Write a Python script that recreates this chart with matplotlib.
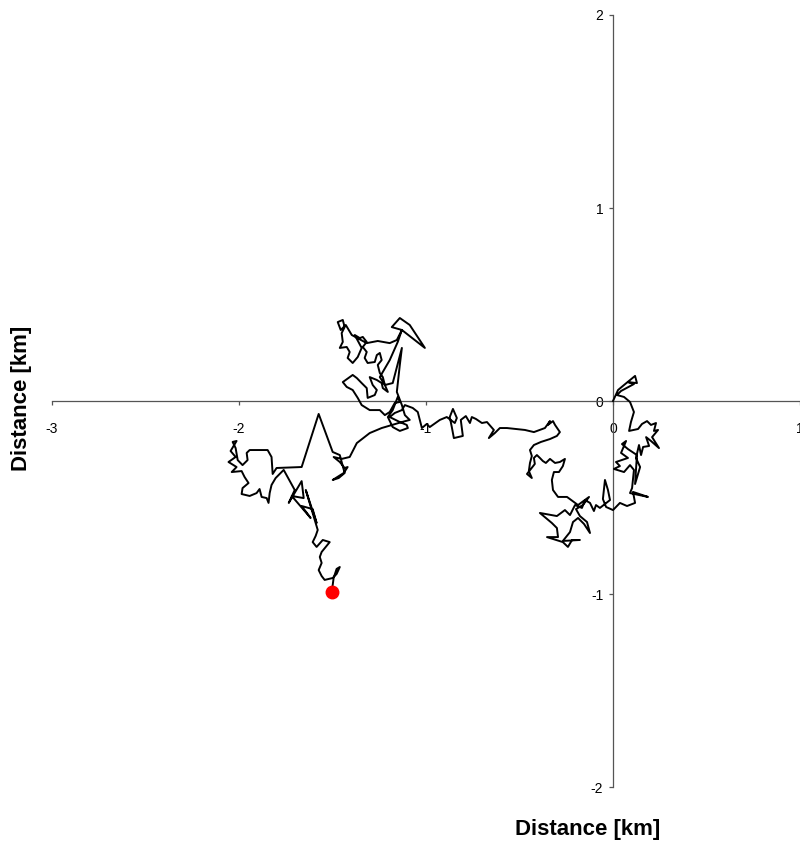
import numpy as np
import matplotlib
matplotlib.use('Agg')
import matplotlib.pyplot as plt

plt.rcParams['font.family'] = ['Liberation Sans', 'DejaVu Sans']
plt.rcParams['axes.unicode_minus'] = False

# Track of the walk (km), from origin to end point
path_x = [0.000, 0.027, 0.059, 0.118, 0.128, 0.080, 0.112, 0.043, 0.021, 0.059,
          0.091, 0.112, 0.096, 0.086, 0.134, 0.155, 0.182, 0.203, 0.230, 0.219,
          0.241, 0.209, 0.246, 0.203, 0.177, 0.193, 0.161, 0.150, 0.139, 0.123,
          0.145, 0.118, 0.128, 0.080, 0.048, 0.070, 0.043, 0.080, 0.016, 0.037,
          0.005, 0.059, 0.091, 0.112, 0.102, 0.091, 0.187, 0.107, 0.118, 0.075,
          0.037, 0.000, -0.037, -0.054, -0.043, -0.027, -0.016, -0.070, -0.091, -0.102,
          # bottom right cluster
          -0.123, -0.150, -0.166, -0.203, -0.230, -0.257, -0.300, -0.391, -0.327, -0.300,
          -0.294, -0.353, -0.268, -0.241, -0.219, -0.177, -0.268, -0.230, -0.214, -0.187,
          -0.155, -0.123, -0.139, -0.177, -0.198, -0.161, -0.128, -0.187, -0.246, -0.294,
          -0.321, -0.327, -0.316, -0.289, -0.268, -0.257, -0.284, -0.310, -0.337, -0.359,
          -0.375, -0.391, -0.407, -0.423, -0.418, -0.439, -0.460, -0.434, -0.450, -0.444,
          -0.434, -0.444, -0.423, -0.385, -0.337, -0.300, -0.284, -0.310, -0.321, -0.348,
          -0.337, -0.364, -0.423, -0.471, -0.567, -0.605, -0.632, -0.664, -0.637, -0.674,
          -0.701, -0.733, -0.755, -0.765, -0.787, -0.814, -0.803, -0.851, -0.862, -0.873,
          -0.856, -0.835, -0.846, -0.889, -0.926,
          # middle cluster near -1
          -0.980, -0.996, -1.022, -1.033, -1.044, -1.071, -1.113, -1.129, -1.167, -1.194,
          -1.140, -1.103, -1.097, -1.140, -1.178, -1.204, -1.178, -1.151, -1.140, -1.167,
          -1.194, -1.220, -1.247, -1.301, -1.344, -1.365, -1.392, -1.424, -1.445, -1.408,
          -1.392, -1.370, -1.344, -1.317, -1.312, -1.274, -1.263, -1.285, -1.301, -1.263,
          -1.237, -1.231, -1.204, -1.220, -1.231, -1.247, -1.258, -1.237, -1.247, -1.263,
          -1.274, -1.312, -1.328, -1.317, -1.338, -1.317, -1.338, -1.354, -1.381, -1.344,
          -1.365, -1.392, -1.419, -1.408, -1.424, -1.461, -1.445, -1.451, -1.435, -1.445,
          -1.472, -1.456, -1.429, -1.397, -1.317, -1.258, -1.194, -1.156, -1.129, -1.183,
          -1.140, -1.087, -1.006, -1.129, -1.151, -1.194, -1.247, -1.220, -1.178, -1.129,
          -1.140, -1.156, -1.129, -1.113, -1.087, -1.129, -1.237, -1.301, -1.370, -1.408,
          # hook, peak and left cluster
          -1.451, -1.494, -1.461, -1.435, -1.419, -1.440, -1.499, -1.467, -1.435, -1.461,
          -1.499, -1.574, -1.665, -1.799, -1.820, -1.826, -1.847, -1.943, -1.959, -1.954,
          -1.981, -2.007, -2.018, -2.034, -2.013, -2.045, -2.018, -2.056, -2.013, -2.039,
          -1.986, -1.970, -1.949, -1.981, -1.986, -1.943, -1.906, -1.890, -1.879, -1.852,
          -1.842, -1.836, -1.826, -1.804, -1.761, -1.702, -1.734, -1.665, -1.654, -1.718,
          -1.617, -1.665, -1.606, -1.585, -1.643, -1.579, -1.590, -1.606, -1.585, -1.552,
          -1.515, -1.558, -1.568, -1.558, -1.574, -1.558, -1.542, -1.499, -1.478, -1.461,
          -1.478, -1.494, -1.504]
path_y = [0.000, 0.057, 0.083, 0.130, 0.093, 0.098, 0.088, 0.052, 0.031, 0.021,
          -0.005, -0.057, -0.109, -0.155, -0.145, -0.119, -0.104, -0.124, -0.114, -0.155,
          -0.150, -0.187, -0.244, -0.207, -0.187, -0.233, -0.238, -0.280, -0.228, -0.295,
          -0.342, -0.430, -0.280, -0.249, -0.223, -0.207, -0.269, -0.295, -0.316, -0.337,
          -0.352, -0.368, -0.332, -0.357, -0.451, -0.477, -0.497, -0.471, -0.528, -0.544,
          -0.528, -0.565, -0.549, -0.508, -0.409, -0.461, -0.513, -0.554, -0.539, -0.570,
          # bottom right cluster
          -0.528, -0.513, -0.554, -0.539, -0.591, -0.565, -0.596, -0.580, -0.632, -0.658,
          -0.705, -0.705, -0.731, -0.756, -0.720, -0.720, -0.725, -0.679, -0.627, -0.606,
          -0.637, -0.684, -0.627, -0.596, -0.560, -0.539, -0.497, -0.539, -0.497, -0.497,
          -0.461, -0.409, -0.368, -0.368, -0.337, -0.300, -0.316, -0.321, -0.300, -0.321,
          -0.311, -0.295, -0.280, -0.295, -0.326, -0.352, -0.378, -0.399, -0.363, -0.321,
          -0.285, -0.254, -0.228, -0.212, -0.197, -0.181, -0.161, -0.124, -0.104, -0.124,
          -0.104, -0.140, -0.161, -0.150, -0.140, -0.140, -0.166, -0.192, -0.150, -0.109,
          -0.114, -0.093, -0.083, -0.114, -0.078, -0.098, -0.181, -0.192, -0.135, -0.083,
          -0.041, -0.088, -0.114, -0.083, -0.098,
          # middle cluster near -1
          -0.135, -0.119, -0.140, -0.098, -0.057, -0.036, -0.021, -0.047, -0.062, -0.083,
          -0.109, -0.124, -0.140, -0.155, -0.135, -0.083, -0.047, 0.021, -0.005, -0.010,
          -0.057, -0.073, -0.047, -0.047, -0.021, 0.016, 0.057, 0.073, 0.098, 0.124,
          0.135, 0.119, 0.093, 0.067, 0.016, 0.031, 0.057, 0.083, 0.124, 0.109,
          0.093, 0.067, 0.047, 0.083, 0.124, 0.145, 0.187, 0.212, 0.249, 0.238,
          0.202, 0.197, 0.223, 0.254, 0.280, 0.306, 0.332, 0.326, 0.342, 0.275,
          0.228, 0.197, 0.223, 0.254, 0.280, 0.275, 0.306, 0.352, 0.383, 0.420,
          0.409, 0.368, 0.394, 0.342, 0.300, 0.311, 0.300, 0.316, 0.368, 0.383,
          0.430, 0.394, 0.275, 0.368, 0.306, 0.212, 0.124, 0.083, 0.093, 0.275,
          0.187, 0.047, -0.021, -0.073, -0.098, -0.109, -0.140, -0.166, -0.218, -0.290,
          # hook, peak and left cluster
          -0.300, -0.290, -0.316, -0.347, -0.342, -0.373, -0.409, -0.399, -0.373, -0.280,
          -0.264, -0.067, -0.342, -0.347, -0.378, -0.290, -0.254, -0.254, -0.269, -0.306,
          -0.332, -0.306, -0.244, -0.212, -0.207, -0.259, -0.290, -0.316, -0.342, -0.368,
          -0.363, -0.394, -0.425, -0.451, -0.482, -0.492, -0.477, -0.456, -0.497, -0.503,
          -0.528, -0.477, -0.435, -0.399, -0.357, -0.461, -0.528, -0.415, -0.503, -0.492,
          -0.606, -0.544, -0.560, -0.632, -0.461, -0.668, -0.699, -0.731, -0.756, -0.720,
          -0.731, -0.782, -0.808, -0.839, -0.876, -0.907, -0.927, -0.917, -0.896, -0.860,
          -0.870, -0.917, -0.990]

xticks = [-3, -2, -1, 0, 1]
yticks = [-2, -1, 0, 1, 2]

fig = plt.figure(figsize=(8.0, 8.47), dpi=100)
ax = fig.add_axes([0.065, 0.0708, 0.935, 0.9115])

ax.plot(path_x, path_y, color='black', lw=1.4, zorder=3)
ax.plot(path_x[-1], path_y[-1], 'o', color='red', markersize=9, zorder=4)

ax.set_xlim(-3, 1)
ax.set_ylim(-2, 2)
ax.set_xticks(xticks)
ax.set_yticks(yticks)

for side in ['top', 'right']:
    ax.spines[side].set_visible(False)
ax.spines['left'].set_position(('data', 0))
ax.spines['bottom'].set_position(('data', 0))
for side in ['left', 'bottom']:
    ax.spines[side].set_color('#555555')
    ax.spines[side].set_linewidth(0.9)

ax.tick_params(axis='x', direction='out', length=3, width=0.9, color='#555555',
               labelsize=10, pad=12)
ax.tick_params(axis='y', direction='out', length=3, width=0.9, color='#555555',
               labelsize=10, pad=4)

fig.text(0.735, 0.021, 'Distance [km]', fontsize=16, fontweight='bold',
         ha='center', va='center')
fig.text(0.027, 0.53, 'Distance [km]', fontsize=16, fontweight='bold',
         rotation=90, ha='center', va='center')

fig.savefig('out.png', dpi=100)
